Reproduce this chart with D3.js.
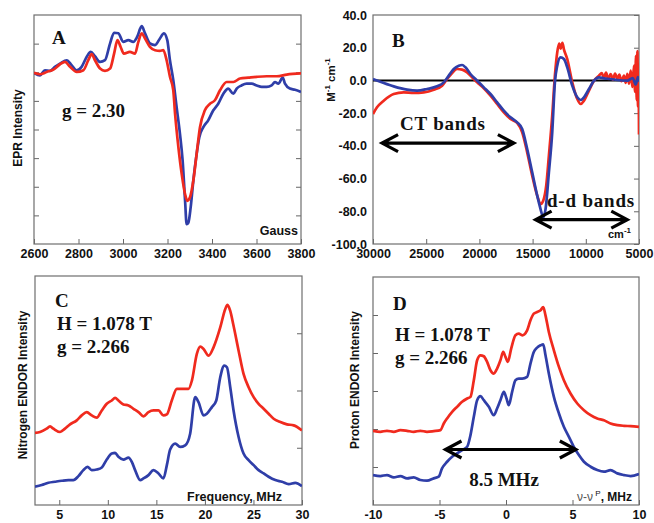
<!DOCTYPE html>
<html>
<head>
<meta charset="utf-8">
<script src="https://cdn.jsdelivr.net/npm/d3@7"></script>
<style>
body { margin: 0; background: #fff; }
svg text { font-family: "Liberation Sans", Arial, sans-serif; font-weight: bold; fill: #111; }
svg text.serif { font-family: "Liberation Serif", "Times New Roman", serif; font-size: 19px; }
</style>
</head>
<body>
<svg id="fig" width="654" height="523"></svg>
<script>
// ---- panel A : EPR (Gauss, arbitrary intensity)
const eprTicks = [2600, 2800, 3000, 3200, 3400, 3600, 3800];
const eprBlue = [[2600,5.98],[2627,5.89],[2649,6.07],[2672,6.05],[2694,6.19],[2717,6.30],[2747,6.42],[2769,6.25],[2792,6.07],[2814,6.19],[2837,6.54],[2855,6.71],[2874,6.56],[2897,6.36],[2919,6.42],[2942,7.01],[2960,7.38],[2979,7.36],[3001,7.06],[3024,7.12],[3046,7.06],[3064,7.24],[3084,7.61],[3099,7.36],[3121,7.01],[3144,6.95],[3166,7.18],[3184,7.36],[3199,7.12],[3211,6.42],[3226,5.72],[3241,4.78],[3256,3.85],[3268,2.91],[3279,1.51],[3286,0.69],[3294,0.75],[3304,1.27],[3316,2.21],[3331,3.15],[3343,3.73],[3361,4.08],[3383,4.32],[3406,4.67],[3428,4.90],[3451,5.25],[3473,5.43],[3496,5.25],[3511,5.43],[3533,5.54],[3556,5.60],[3578,5.60],[3601,5.54],[3623,5.49],[3646,5.49],[3668,5.54],[3683,5.66],[3698,5.60],[3718,5.81],[3728,5.60],[3750,5.43],[3773,5.39],[3800,5.31]];
const eprRed = [[2600,5.98],[2627,5.93],[2657,6.01],[2687,6.09],[2717,6.28],[2739,6.36],[2762,6.19],[2792,6.01],[2822,6.07],[2844,6.42],[2859,6.63],[2874,6.42],[2897,6.13],[2919,6.05],[2942,6.13],[2960,6.65],[2975,7.12],[2989,6.89],[3004,6.65],[3031,6.71],[3054,6.65],[3069,7.06],[3084,7.36],[3099,7.18],[3121,6.89],[3144,6.77],[3166,6.75],[3181,6.77],[3196,6.42],[3211,5.84],[3226,5.37],[3234,4.55],[3249,3.38],[3264,2.44],[3279,1.74],[3289,1.51],[3301,1.63],[3316,2.21],[3331,3.15],[3346,4.08],[3368,4.67],[3391,4.90],[3413,5.02],[3436,5.37],[3466,5.66],[3496,5.66],[3526,5.78],[3563,5.81],[3601,5.84],[3646,5.86],[3691,5.86],[3736,5.92],[3800,5.96]];

// ---- panel B : CD spectrum (cm-1, M-1 cm-1)
const uvXTicks = [30000, 25000, 20000, 15000, 10000, 5000];
const uvYTicks = [-100, -80, -60, -40, -20, 0, 20, 40];
const uvBlue = [[30000,0.87],[29310,-0.76],[28055,-3.61],[26800,-5.65],[25859,-6.26],[24918,-5.24],[23977,-3.61],[23350,-1.17],[22879,2.91],[22409,6.98],[21938,9.02],[21624,9.43],[21311,8.00],[20840,3.93],[20213,-0.15],[19586,-4.22],[18958,-8.30],[18331,-13.40],[17704,-18.49],[17076,-22.57],[16449,-25.62],[15978,-29.70],[15508,-41.93],[15037,-56.19],[14566,-70.46],[14253,-78.61],[14002,-83.71],[13782,-78.61],[13468,-56.19],[13155,-31.74],[12904,-1.17],[12684,9.02],[12370,14.12],[12057,13.10],[11743,8.00],[11272,-3.21],[10802,-10.34],[10488,-11.97],[10174,-10.34],[9704,-5.24],[9233,-0.15],[8763,1.89],[8292,1.28],[7665,0.87],[7038,0.26],[6097,-0.15],[5600,1.5],[5300,-2.5],[5100,2.0],[5000,-0.76]];
const uvRed = [[30000,-20.53],[29624,-16.45],[28996,-12.38],[28055,-8.30],[27114,-7.28],[26173,-7.69],[25232,-7.28],[24290,-5.65],[23506,-3.21],[23036,0.87],[22565,4.54],[22094,6.98],[21624,6.58],[21153,4.95],[20683,1.89],[20213,-1.17],[19586,-4.84],[18958,-9.32],[18331,-14.41],[17704,-19.51],[17076,-23.59],[16449,-26.03],[15978,-31.74],[15508,-43.97],[15037,-58.23],[14566,-70.46],[14253,-75.55],[14002,-73.52],[13719,-64.35],[13468,-46.00],[13155,-21.55],[12904,2.91],[12684,17.17],[12500,22.5],[12370,19.5],[12200,23.0],[12057,19.0],[11743,13.10],[11272,-1.17],[10802,-11.36],[10488,-14.41],[10174,-12.38],[9704,-6.26],[9233,-0.15],[8763,2.91],[8500,4.5],[8292,1.5],[8100,4.8],[7900,1.0],[7665,3.8],[7450,0.5],[7250,4.2],[7038,1.0],[6850,3.5],[6650,-0.5],[6410,3.0],[6250,-1.5],[6097,4.0],[5938,-2],[5781,6],[5624,-4],[5467,9],[5373,-7],[5279,15],[5216,-12],[5153,18],[5090,-16],[5031,10],[5000,-33]];
const ctArrow = [29150, 16760, -38.3];
const ddArrow = [14720, 6100, -85.1];

// ---- panel C : nitrogen ENDOR (MHz)
const nTicks = [5, 10, 15, 20, 25, 30];
const nRed = [[2.50,1.258],[3.02,1.275],[3.70,1.333],[4.05,1.374],[4.39,1.333],[5.08,1.275],[5.59,1.333],[6.11,1.409],[6.80,1.478],[7.31,1.565],[7.83,1.623],[8.34,1.565],[8.86,1.525],[9.38,1.652],[9.89,1.768],[10.41,1.826],[10.75,1.872],[11.09,1.826],[11.61,1.757],[12.13,1.739],[12.64,1.681],[13.16,1.623],[13.67,1.548],[14.19,1.623],[14.70,1.652],[15.22,1.652],[15.73,1.565],[16.08,1.583],[16.59,1.826],[17.11,2.029],[17.63,2.029],[18.31,2.029],[18.66,2.174],[19.17,2.638],[19.52,2.765],[19.86,2.725],[20.38,2.609],[20.89,2.754],[21.58,3.101],[22.09,3.420],[22.33,3.496],[22.61,3.391],[22.95,3.130],[23.47,2.696],[23.98,2.290],[24.50,2.058],[25.02,1.884],[25.53,1.768],[26.05,1.681],[26.56,1.594],[27.08,1.507],[27.77,1.449],[28.45,1.409],[29.14,1.391],[30.00,1.304]];
const nBlue = [[2.50,0.319],[3.19,0.348],[3.88,0.388],[4.56,0.406],[5.25,0.423],[5.94,0.435],[6.45,0.435],[6.97,0.504],[7.48,0.609],[7.90,0.667],[8.34,0.609],[8.86,0.620],[9.38,0.655],[9.89,0.794],[10.41,0.899],[10.75,0.910],[11.09,0.841],[11.61,0.794],[12.13,0.829],[12.47,0.754],[12.81,0.609],[13.33,0.435],[13.67,0.464],[14.19,0.522],[14.70,0.609],[15.22,0.551],[15.73,0.464],[16.08,0.696],[16.42,0.968],[16.94,1.072],[17.45,1.014],[17.97,1.043],[18.48,1.246],[19.00,1.884],[19.34,1.797],[19.86,1.565],[20.20,1.594],[20.72,1.710],[21.17,1.826],[21.58,2.232],[21.99,2.435],[22.27,2.406],[22.61,2.058],[22.95,1.652],[23.47,1.188],[23.98,0.899],[24.50,0.783],[25.02,0.696],[25.53,0.609],[26.05,0.551],[26.56,0.493],[27.25,0.435],[27.94,0.406],[28.63,0.365],[29.31,0.388],[30.00,0.330]];

// ---- panel D : proton ENDOR (MHz from nu_p)
const hTicks = [-10, -5, 0, 5, 10];
const hRed = [[-10.00,1.953],[-9.45,1.926],[-8.95,1.953],[-8.44,1.926],[-7.94,1.970],[-7.44,1.953],[-6.94,1.926],[-6.44,1.953],[-5.94,1.926],[-5.43,1.944],[-4.93,1.970],[-4.68,2.145],[-4.43,2.277],[-4.05,2.452],[-3.68,2.583],[-3.30,2.715],[-2.92,2.802],[-2.67,2.846],[-2.42,3.284],[-2.17,3.809],[-1.92,3.940],[-1.67,3.914],[-1.42,3.765],[-1.17,3.546],[-0.92,3.459],[-0.67,3.590],[-0.42,3.809],[-0.21,4.028],[-0.04,3.897],[0.14,3.765],[0.39,4.116],[0.71,4.466],[0.96,4.510],[1.22,4.466],[1.59,4.597],[1.84,4.860],[2.09,5.035],[2.34,5.079],[2.60,5.123],[2.80,5.210],[2.97,4.991],[3.22,4.553],[3.60,4.072],[3.98,3.634],[4.35,3.284],[4.85,2.933],[5.36,2.671],[5.86,2.496],[6.36,2.364],[6.86,2.277],[7.36,2.233],[7.86,2.145],[8.37,2.102],[8.87,2.084],[9.37,2.075],[10.00,2.058]];
const hBlue = [[-10.00,0.788],[-9.45,0.762],[-8.95,0.788],[-8.44,0.727],[-7.94,0.762],[-7.44,0.701],[-6.94,0.727],[-6.44,0.657],[-5.94,0.639],[-5.43,0.701],[-5.06,0.744],[-4.81,0.963],[-4.43,1.138],[-4.05,1.270],[-3.68,1.357],[-3.30,1.445],[-2.92,1.532],[-2.67,1.839],[-2.42,2.320],[-2.17,2.758],[-1.92,2.863],[-1.67,2.758],[-1.29,2.583],[-0.92,2.364],[-0.67,2.539],[-0.42,2.758],[-0.16,2.977],[0.04,2.802],[0.21,2.627],[0.46,2.977],[0.71,3.284],[0.96,3.327],[1.22,3.327],[1.59,3.371],[1.84,3.722],[2.09,4.028],[2.34,4.142],[2.60,4.203],[2.80,4.229],[2.97,3.940],[3.22,3.459],[3.60,2.846],[3.98,2.408],[4.35,2.058],[4.73,1.795],[5.10,1.532],[5.48,1.313],[5.86,1.138],[6.36,1.007],[6.86,0.919],[7.36,0.876],[7.86,0.919],[8.37,0.832],[8.87,0.788],[9.37,0.762],[10.00,0.814]];
const hArrow = [-4.55, 5.25, 1.46];

const RED = "#f02a1e";
const BLUE = "#2f3ea8";

let svg = d3.select("#fig");

function makePanel(id, box, xdom, ydom, xticks, yticks, sides) {
    let g = svg.append("g").attr("id", id);
    let x = d3.scaleLinear().domain(xdom).range([box.left, box.right]);
    let y = d3.scaleLinear().domain(ydom).range([box.bottom, box.top]);

    g.append("clipPath").attr("id", id + "-clip")
	.append("rect")
	.attr("x", box.left).attr("y", box.top)
	.attr("width", box.right - box.left).attr("height", box.bottom - box.top);

    // inner ticks on bottom
    g.append("g")
	.attr("transform", "translate(0," + box.bottom + ")")
	.call(d3.axisTop(x).tickValues(xticks).tickSize(5).tickFormat(""))
	.call(a => a.select(".domain").remove())
	.selectAll("line").attr("stroke", "#666");

    // tick labels
    g.append("g")
	.attr("transform", "translate(0," + box.bottom + ")")
	.call(d3.axisBottom(x).tickValues(xticks).tickSize(0).tickPadding(5.5).tickFormat(d => d))
	.call(a => a.select(".domain").remove())
	.selectAll("text").attr("font-size", 12.5).attr("font-family", null).attr("fill", "#111");

    // inner ticks on the sides
    if (sides.indexOf("right") >= 0) {
	g.append("g")
	    .attr("transform", "translate(" + box.right + ",0)")
	    .call(d3.axisLeft(y).tickValues(yticks).tickSize(5).tickFormat(""))
	    .call(a => a.select(".domain").remove())
	    .selectAll("line").attr("stroke", "#666");
    }
    if (sides.indexOf("left") >= 0) {
	g.append("g")
	    .attr("transform", "translate(" + box.left + ",0)")
	    .call(d3.axisRight(y).tickValues(yticks).tickSize(5).tickFormat(""))
	    .call(a => a.select(".domain").remove())
	    .selectAll("line").attr("stroke", "#666");
    }

    // frame
    g.append("rect")
	.attr("x", box.left).attr("y", box.top)
	.attr("width", box.right - box.left).attr("height", box.bottom - box.top)
	.attr("fill", "none").attr("stroke", "#6e6e6e").attr("stroke-width", 1.2);

    return { g: g, x: x, y: y, clip: "url(#" + id + "-clip)" };
}

function drawSeries(p, data, color) {
    p.g.append("path")
	.datum(data)
	.attr("clip-path", p.clip)
	.attr("fill", "none")
	.attr("stroke", color)
	.attr("stroke-width", 2.7)
	.attr("stroke-linejoin", "round")
	.attr("d", d3.line()
	      .x(d => p.x(d[0]))
	      .y(d => p.y(d[1]))
	      .curve(d3.curveMonotoneX));
}

function drawArrow(p, a) {
    let x1 = p.x(a[0]), x2 = p.x(a[1]), yy = p.y(a[2]);
    let h = 16, w = 8.5;
    p.g.append("path")
	.attr("d", `M${x1},${yy}L${x2},${yy}M${x1 + h},${yy - w}L${x1},${yy}L${x1 + h},${yy + w}M${x2 - h},${yy - w}L${x2},${yy}L${x2 - h},${yy + w}`)
	.attr("fill", "none").attr("stroke", "#000").attr("stroke-width", 3.2);
}

function label(g, txt, x, y, cls, size, anchor) {
    let t = g.append("text").attr("x", x).attr("y", y).text(txt);
    if (cls) t.attr("class", cls);
    if (size) t.attr("font-size", size);
    if (anchor) t.attr("text-anchor", anchor);
    return t;
}

function yTitle(g, txt, x, y) {
    g.append("text")
	.attr("transform", "translate(" + x + "," + y + ") rotate(-90)")
	.attr("text-anchor", "middle")
	.attr("font-size", 12)
	.text(txt);
}

// A
let pA = makePanel("pa", { left: 34, right: 301, top: 15, bottom: 244 }, [2600, 3800], [0, 8], eprTicks, [1, 2, 3, 4, 5, 6, 7], ["left", "right"]);
drawSeries(pA, eprBlue, BLUE);
drawSeries(pA, eprRed, RED);
label(pA.g, "A", 52, 44, "serif", 19);
label(pA.g, "g = 2.30", 62, 117, "serif", 19);
label(pA.g, "Gauss", 298, 235, null, 12.5, "end");
yTitle(pA.g, "EPR Intensity", 22, 128);

// B
let pB = makePanel("pb", { left: 373, right: 639, top: 15, bottom: 244 }, [30000, 5000], [-100, 40], uvXTicks, uvYTicks, ["right"]);
pB.g.append("g")
    .attr("transform", "translate(" + 373 + ",0)")
    .call(d3.axisLeft(pB.y).tickValues(uvYTicks).tickSize(0).tickPadding(6).tickFormat(d => d.toFixed(1)))
    .call(a => a.select(".domain").remove())
    .selectAll("text").attr("font-size", 12.5).attr("font-family", null).attr("fill", "#111");
// zero line
pB.g.append("line")
    .attr("x1", pB.x(30000)).attr("x2", pB.x(5000))
    .attr("y1", pB.y(0)).attr("y2", pB.y(0))
    .attr("stroke", "#000").attr("stroke-width", 2);
drawSeries(pB, uvRed, RED);
drawSeries(pB, uvBlue, BLUE);
label(pB.g, "B", 392, 47, "serif", 19);
label(pB.g, "CT bands", 400, 130, "serif", 19).attr("letter-spacing", 0.8);
label(pB.g, "d-d bands", 547, 207, "serif", 19).attr("letter-spacing", 0.8);
drawArrow(pB, ctArrow);
drawArrow(pB, ddArrow);
let cm = label(pB.g, "cm", 608, 238, null, 11);
cm.append("tspan").attr("dy", -5).attr("font-size", 8).text("-1");
let my = pB.g.append("text")
    .attr("transform", "translate(335,80) rotate(-90)")
    .attr("text-anchor", "middle")
    .attr("font-size", 11.5);
my.append("tspan").text("M");
my.append("tspan").attr("dy", -5).attr("font-size", 8).text("-1");
my.append("tspan").attr("dy", 5).text(" cm");
my.append("tspan").attr("dy", -5).attr("font-size", 8).text("-1");

// C
let pC = makePanel("pc", { left: 35, right: 302, top: 276, bottom: 505 }, [2.5, 30], [0, 4], nTicks, [1, 2, 3], ["right"]);
drawSeries(pC, nBlue, BLUE);
drawSeries(pC, nRed, RED);
label(pC.g, "C", 55, 307, "serif", 19);
label(pC.g, "H = 1.078 T", 57, 330, "serif", 19);
label(pC.g, "g = 2.266", 57, 353, "serif", 19);
label(pC.g, "Frequency, MHz", 282, 501, null, 12.5, "end");
yTitle(pC.g, "Nitrogen ENDOR Intensity", 27, 385);

// D
let pD = makePanel("pd", { left: 373, right: 639, top: 277, bottom: 505 }, [-10, 10], [0, 6], hTicks, [1, 2, 3, 4, 5], ["left"]);
drawSeries(pD, hRed, RED);
drawSeries(pD, hBlue, BLUE);
drawArrow(pD, hArrow);
label(pD.g, "D", 393, 310, "serif", 19);
label(pD.g, "H = 1.078 T", 395, 341, "serif", 19);
label(pD.g, "g = 2.266", 395, 364, "serif", 19);
label(pD.g, "8.5 MHz", 504, 486, "serif", 19, "middle");
let nu = label(pD.g, "", 632, 501, null, 12, "end");
nu.append("tspan").attr("font-weight", "normal").attr("fill", "#555").text("ν-ν");
nu.append("tspan").attr("dy", -5).attr("font-size", 8).attr("font-weight", "normal").text(" P");
nu.append("tspan").attr("dy", 5).text(", MHz");
yTitle(pD.g, "Proton ENDOR Intensity", 359, 380);
</script>
</body>
</html>
